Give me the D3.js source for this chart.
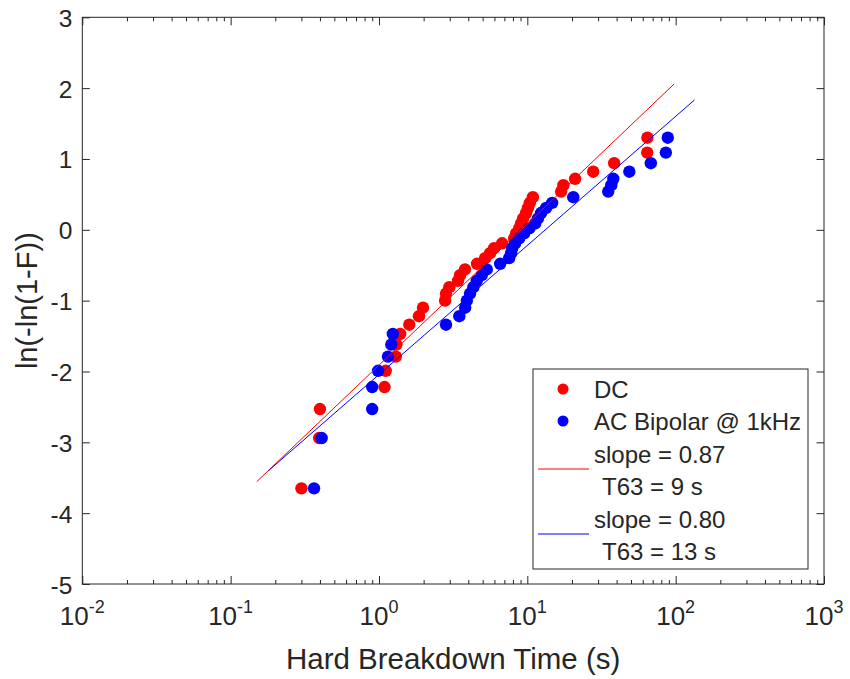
<!DOCTYPE html>
<html>
<head>
<meta charset="utf-8">
<script src="https://cdn.jsdelivr.net/npm/d3@7"></script>
<style>
  body { margin: 0; background: #fff; }
  text { font-family: "Liberation Sans", Arial, sans-serif; fill: #262626; }
</style>
</head>
<body>
<div id="chart"></div>
<script>
// Weibull plot values
// y = ln(-ln(1-F)) for the 38 ranked samples (same ranks for both sets)
const rankY = [-3.65, -2.94, -2.53, -2.22, -1.99, -1.79, -1.62, -1.47, -1.34, -1.22,
               -1.10, -1.00, -0.90, -0.81, -0.72, -0.64, -0.56, -0.48, -0.40, -0.33,
               -0.26, -0.19, -0.12, -0.05, 0.02, 0.09, 0.16, 0.24, 0.31, 0.38,
               0.46, 0.54, 0.63, 0.72, 0.82, 0.94, 1.09, 1.30];

// breakdown times (s)
const dcTime = [0.30, 0.395, 0.40, 1.09, 1.11, 1.30, 1.31, 1.39, 1.60, 1.86,
                1.98, 2.79, 2.83, 2.98, 3.41, 3.52, 3.80, 4.58, 5.19, 5.61,
                5.97, 6.76, 8.15, 8.40, 8.81, 9.08, 9.37, 9.82, 10.1, 10.4,
                10.9, 16.9, 17.5, 21.0, 27.8, 38.5, 64.3, 64.5];
const acTime = [0.365, 0.411, 0.90, 0.90, 0.986, 1.15, 1.21, 1.24, 2.83, 3.48,
                3.81, 3.91, 4.11, 4.33, 4.56, 4.93, 5.33, 6.56, 7.54, 7.78,
                7.90, 8.28, 8.81, 9.52, 10.3, 11.3, 11.8, 12.4, 13.4, 14.7,
                20.4, 35.1, 36.8, 38.0, 48.7, 68.0, 85.9, 88.5];

// fitted lines (end points)
const dcFitT = [0.15, 97.7], dcFitY = [-3.555, 2.059];
const acFitT = [0.18, 134], acFitY = [-3.40, 1.833];

const yTicks = [-5, -4, -3, -2, -1, 0, 1, 2, 3];
const xDecades = [-2, -1, 0, 1, 2, 3];

const legendLabels = ["DC", "AC Bipolar @ 1kHz", "slope = 0.87", "T63 = 9 s", "slope = 0.80", "T63 = 13 s"];

const width = 850, height = 679;
const margin = {top: 17.3, right: 26, bottom: 95, left: 82.3};

const svg = d3.select("#chart").append("svg")
  .attr("width", width)
  .attr("height", height);

const x = d3.scaleLog()
  .domain([1e-2, 1e3])
  .range([margin.left, width - margin.right]);
const y = d3.scaleLinear()
  .domain([-5, 3])
  .range([height - margin.bottom, margin.top]);

const x0 = x.range()[0], x1 = x.range()[1];
const y0 = y.range()[0], y1 = y.range()[1];

// minor ticks 2..9 in each decade
const minor = [];
xDecades.slice(0, -1).forEach(d => {
  for (let k = 2; k <= 9; k++) minor.push(k * Math.pow(10, d));
});
const major = xDecades.map(d => Math.pow(10, d));

const axisColor = "#262626";

function styleAxis(g) {
  g.select(".domain").remove();
  g.selectAll("line").attr("stroke", axisColor).attr("stroke-width", 1);
}

// x ticks, bottom and top, pointing inward
svg.append("g").attr("transform", `translate(0,${y0})`)
  .call(d3.axisBottom(x).tickValues(minor).tickSize(-4).tickFormat(""))
  .call(styleAxis);
svg.append("g").attr("transform", `translate(0,${y0})`)
  .call(d3.axisBottom(x).tickValues(major).tickSize(-8).tickFormat(""))
  .call(styleAxis);
svg.append("g").attr("transform", `translate(0,${y1})`)
  .call(d3.axisTop(x).tickValues(minor).tickSize(-4).tickFormat(""))
  .call(styleAxis);
svg.append("g").attr("transform", `translate(0,${y1})`)
  .call(d3.axisTop(x).tickValues(major).tickSize(-8).tickFormat(""))
  .call(styleAxis);

// y ticks left and right
svg.append("g").attr("transform", `translate(${x0},0)`)
  .call(d3.axisLeft(y).tickValues(yTicks).tickSize(-7.5).tickFormat(""))
  .call(styleAxis);
svg.append("g").attr("transform", `translate(${x1},0)`)
  .call(d3.axisRight(y).tickValues(yTicks).tickSize(-7.5).tickFormat(""))
  .call(styleAxis);

// box
svg.append("rect")
  .attr("x", x0).attr("y", y1)
  .attr("width", x1 - x0).attr("height", y0 - y1)
  .attr("fill", "none").attr("stroke", axisColor).attr("stroke-width", 1);

// y tick labels
svg.append("g").selectAll("text")
  .data(yTicks)
  .join("text")
    .attr("x", x0 - 10)
    .attr("y", d => y(d) + 9.5)
    .attr("text-anchor", "end")
    .style("font-size", "24.5px")
    .text(d => d);

// x tick labels 10^n
const xl = svg.append("g").selectAll("text")
  .data(xDecades)
  .join("text")
    .attr("x", d => x(Math.pow(10, d)))
    .attr("y", y0 + 41)
    .attr("text-anchor", "middle")
    .style("font-size", "26px");
xl.append("tspan").text("10");
xl.append("tspan").attr("dy", -12).style("font-size", "18px").text(d => d);

// axis labels
svg.append("text")
  .attr("x", (x0 + x1) / 2)
  .attr("y", 669)
  .attr("text-anchor", "middle")
  .style("font-size", "29.5px")
  .text("Hard Breakdown Time (s)");

svg.append("text")
  .attr("transform", `translate(37,${(y0 + y1) / 2}) rotate(-90)`)
  .attr("text-anchor", "middle")
  .style("font-size", "29px")
  .text("ln(-ln(1-F))");

// data points
const dcPts = dcTime.map((t, i) => ({t, v: rankY[i]}));
const acPts = acTime.map((t, i) => ({t, v: rankY[i]}));

svg.append("g").attr("fill", "#ff0000")
  .selectAll("circle").data(dcPts).join("circle")
    .attr("cx", d => x(d.t)).attr("cy", d => y(d.v)).attr("r", 6.2);
svg.append("g").attr("fill", "#0000ff")
  .selectAll("circle").data(acPts).join("circle")
    .attr("cx", d => x(d.t)).attr("cy", d => y(d.v)).attr("r", 6.2);

// fit lines
const line = d3.line().x(d => x(d[0])).y(d => y(d[1]));
svg.append("path")
  .attr("d", line(d3.zip(dcFitT, dcFitY)))
  .attr("stroke", "#ff0000").attr("stroke-width", 1).attr("fill", "none");
svg.append("path")
  .attr("d", line(d3.zip(acFitT, acFitY)))
  .attr("stroke", "#0000ff").attr("stroke-width", 1).attr("fill", "none");

// legend
const lg = svg.append("g");
lg.append("rect")
  .attr("x", 533).attr("y", 369).attr("width", 275).attr("height", 200)
  .attr("fill", "#fff").attr("stroke", axisColor).attr("stroke-width", 1);

const rowY = [389, 421, 454, 486, 519, 551];
lg.append("circle").attr("cx", 563).attr("cy", rowY[0]).attr("r", 5.5).attr("fill", "#ff0000");
lg.append("circle").attr("cx", 563).attr("cy", rowY[1]).attr("r", 5.5).attr("fill", "#0000ff");
lg.append("line").attr("x1", 538).attr("x2", 589).attr("y1", 469).attr("y2", 469)
  .attr("stroke", "#ff0000").attr("stroke-width", 1);
lg.append("line").attr("x1", 538).attr("x2", 589).attr("y1", 534).attr("y2", 534)
  .attr("stroke", "#0000ff").attr("stroke-width", 1);

lg.selectAll("text.leg")
  .data(legendLabels)
  .join("text")
    .attr("class", "leg")
    .attr("x", (d, i) => (i === 3 || i === 5) ? 602 : 594)
    .attr("y", (d, i) => rowY[i] + 8.5)
    .style("font-size", "24px")
    .text(d => d);
</script>
</body>
</html>
